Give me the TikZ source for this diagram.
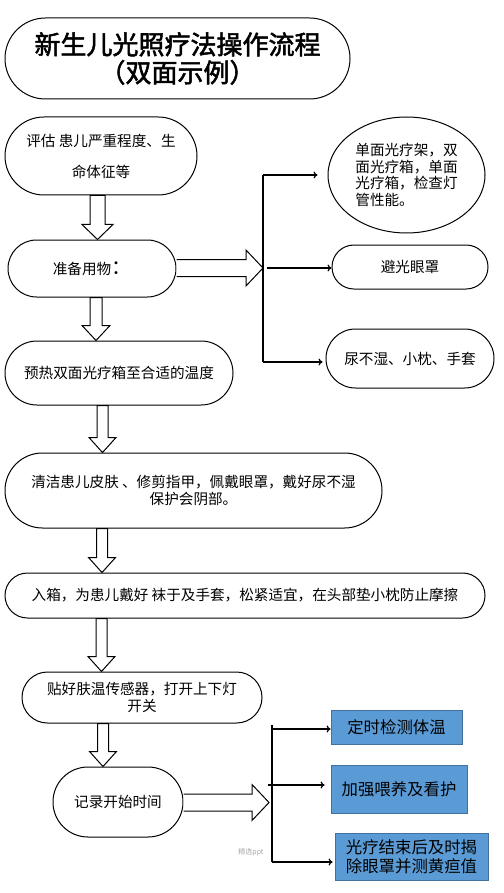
\documentclass[tikz,border=0pt]{standalone}
\usepackage{fontspec}
\setmainfont{Noto Sans CJK SC}
\newfontfamily\titlefont[FakeBold=2]{Noto Sans CJK SC}
\usetikzlibrary{shapes.geometric,calc,arrows.meta}
\definecolor{boxblue}{HTML}{5B9BD5}
\definecolor{boxedge}{HTML}{41719C}

\tikzset{
	stadium/.style={draw, rectangle, line width=1pt, inner sep=0pt, minimum height=#1, rounded corners=#1/2-0.05pt, align=center, font=\fontsize{14.6}{17.5}\selectfont},
	bluebox/.style={draw=boxedge, fill=boxblue, rectangle, line width=0.8pt, inner sep=0pt, align=center, font=\fontsize{16.4}{19}\selectfont},
	blockarrow/.style={draw, fill=white, line width=1pt, line join=miter},
	branch/.style={line width=1.2pt, -{To[length=4pt,width=7pt]}},
	bus/.style={line width=1.3pt}
}

% hollow arrow downwards: x, half width of shaft, upper node, lower node
\newcommand{\downblock}[4]{%
	\draw [blockarrow] let \p1=(#3.south), \p2=(#4.north) in
		(#1pt-#2pt,\y1) -- (#1pt+#2pt,\y1) -- (#1pt+#2pt,\y2+15pt) -- (#1pt+#2pt+8pt,\y2+15pt) -- (#1pt,\y2) -- (#1pt-#2pt-8pt,\y2+15pt) -- (#1pt-#2pt,\y2+15pt) -- cycle;}
% hollow arrow to the right: node, tip
\newcommand{\rightblock}[2]{%
	\draw [blockarrow] let \p1=(#1.east), \p2=(#2) in
		(\x1,\y2+8.5pt) -- (\x2-17pt,\y2+8.5pt) -- (\x2-17pt,\y2+18pt) -- (\x2,\y2) -- (\x2-17pt,\y2-18pt) -- (\x2-17pt,\y2-8.5pt) -- (\x1,\y2-8.5pt);}

\begin{document}
\begin{tikzpicture}[x=1pt,y=-1pt]
	\fill [white] (0,0) rectangle (503,893);
	% Title
	\node [stadium=81pt, minimum width=345pt, font=\titlefont\fontsize{26}{28}\selectfont] (title) at (177.5,58.5) {新生儿光照疗法操作流程\\（双面示例）};
	% Steps
	\node [stadium=78pt, minimum width=192pt] (assess) at (101,156) {评估 患儿严重程度、生\\[13.5pt]命体征等};
	\node [stadium=57pt, minimum width=168pt] (prep) at (92,268.5) {准备用物{\fontsize{20}{20}\selectfont ：}};
	\node [stadium=64pt, minimum width=228pt] (heat) at (119,373) {预热双面光疗箱至合适的温度};
	\node [stadium=75pt, minimum width=377pt] (clean) at (193.5,490.5) {清洁患儿皮肤 、修剪指甲，佩戴眼罩，戴好尿不湿\\保护会阴部。};
	\node [stadium=45pt, minimum width=480pt] (inbox) at (245,595.5) {入箱，为患儿戴好 袜于及手套，松紧适宜，在头部垫小枕防止摩擦};
	\node [stadium=51pt, minimum width=240pt] (sensor) at (142,697.5) {贴好肤温传感器，打开上下灯\\开关};
	\node [stadium=70pt, minimum width=130pt] (record) at (118,802) {记录开始时间};
	% Items
	\node [draw, ellipse, line width=1pt, inner sep=0pt, minimum width=157pt, minimum height=116pt, align=left, font=\fontsize{14.6}{16.7}\selectfont] (lamp) at (406.5,175) {单面光疗架，双\\面光疗箱，单面\\光疗箱，检查灯\\管性能。};
	\node [stadium=44pt, minimum width=156pt] (eye) at (410,267) {避光眼罩};
	\node [stadium=59pt, minimum width=168pt] (pads) at (410,358.5) {尿不湿、小枕、手套};
	% Care
	\node [bluebox, minimum width=131pt, minimum height=34pt] (temp) at (396.5,727) {定时检测体温};
	\node [bluebox, minimum width=136pt, minimum height=48pt] (nurse) at (399,789) {加强喂养及看护};
	\node [bluebox, minimum width=153pt, minimum height=47pt] (finish) at (411.5,856.5) {光疗结束后及时揭\\除眼罩并测黄疸值};
	\node [font=\fontsize{7}{8}\selectfont, text=black!35] (mark) at (251,852) {精选ppt};
	% Flow
	\downblock{97.5}{7.5}{assess}{prep}
	\downblock{96}{6}{prep}{heat}
	\downblock{102.5}{5.5}{heat}{clean}
	\downblock{102}{5.5}{clean}{inbox}
	\downblock{101.5}{5.5}{inbox}{sensor}
	\downblock{103}{5.5}{sensor}{record}
	% Upper split
	\coordinate (hubA) at (263,268);
	\coordinate (busAtop) at (263,175);
	\coordinate (busAbot) at (263,362);
	\rightblock{prep}{hubA}
	\draw [bus] (busAtop) -- (busAbot);
	\draw [branch, shorten >=10pt] (busAtop) -- (busAtop -| lamp.west);
	\draw [branch] ([xshift=4pt]hubA) -- (hubA -| eye.west);
	\draw [branch, shorten >=3pt] (busAbot) -- (busAbot -| pads.west);
	% Lower split
	\coordinate (hubB) at (269,802.5);
	\coordinate (busBtop) at (272,725);
	\coordinate (busBbot) at (272,862);
	\coordinate (tapB1) at (272,729);
	\coordinate (tapB2) at (268,785);
	\rightblock{record}{hubB}
	\draw [bus] (busBtop) -- (busBbot);
	\draw [branch] (tapB1) -- (tapB1 -| temp.west);
	\draw [branch, shorten >=6pt] (tapB2) -- (tapB2 -| nurse.west);
	\draw [branch, shorten >=2pt] (busBbot) -- (busBbot -| finish.west);
\end{tikzpicture}
\end{document}
